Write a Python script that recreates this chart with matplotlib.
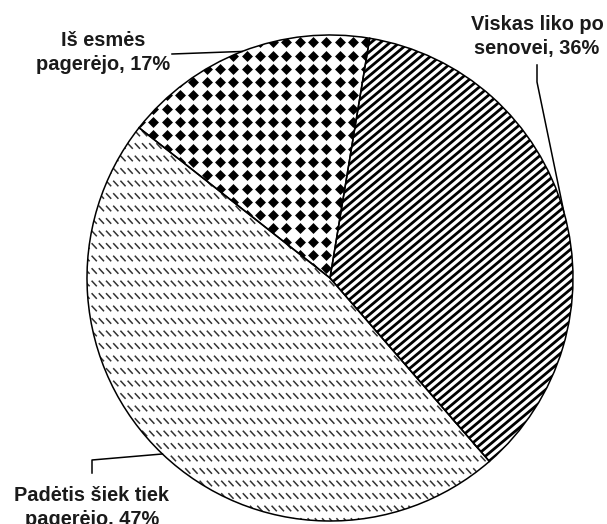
import numpy as np
import matplotlib
matplotlib.use('Agg')
import matplotlib.pyplot as plt
from matplotlib.collections import LineCollection

plt.rcParams['font.family'] = ['Liberation Sans', 'DejaVu Sans']

# data
labels = ['Viskas liko po\nsenovei, 36%', 'Padėtis šiek tiek\npagerėjo, 47%', 'Iš esmės\npagerėjo, 17%']
values = [36, 47, 17]

W, H = 607, 524
CX, CY, R = 330, 278, 243   # pie centre / radius in pixels
START = 80.6

# label layout (pixels): centre x, first baseline y; leader polyline start points
label_pos = [(537, 30), (92, 501), (103, 46)]
LINE_GAP = 24
leader_pts = [[(537, 65), (537, 82)], [(92, 473), (92, 460)], [(172, 54)]]

fig = plt.figure(figsize=(W / 100, H / 100), dpi=100)
ax = fig.add_axes([(CX - R) / W, (H - CY - R) / H, 2 * R / W, 2 * R / H])

wedges, _ = ax.pie(values, startangle=START, counterclock=False, radius=1,
                   colors=['white'] * 3, wedgeprops={'linewidth': 0})
ax.pie(values, startangle=START, counterclock=False, radius=1,
       wedgeprops={'fill': False, 'edgecolor': 'black', 'linewidth': 1.1, 'zorder': 5})
ax.set_xlim(-1, 1)
ax.set_ylim(-1, 1)
ax.axis('off')

u = 1.0 / R  # one pixel in data units

# slice 1: thick diagonal stripes
ang = np.radians(40)
d = np.array([np.cos(ang), np.sin(ang)])
n = np.array([-np.sin(ang), np.cos(ang)])
segs = []
for k in np.arange(-1.5, 1.5, 6.1 * u):
    p = k * n
    segs.append([p - 2 * d, p + 2 * d])
lc = LineCollection(segs, colors='black', linewidths=2.0, zorder=2)
ax.add_collection(lc)
lc.set_clip_path(wedges[0])

# slice 2: rows of short grey dashes
segs = []
for yy in np.arange(-1, 1, 12.5 * u):
    for xx in np.arange(-1, 1, 7.2 * u):
        segs.append([(xx - 2.6 * u, yy + 2.8 * u), (xx + 2.6 * u, yy - 2.8 * u)])
lc2 = LineCollection(segs, colors='0.2', linewidths=1.1, zorder=2)
ax.add_collection(lc2)
lc2.set_clip_path(wedges[1])

# slice 3: black diamonds grid
gx, gy = np.meshgrid(np.arange(-1, 1, 13.3 * u), np.arange(-1, 1, 13.3 * u))
sc = ax.scatter(gx.ravel(), gy.ravel(), marker='D', s=31, color='black',
                linewidths=0, zorder=2)
sc.set_clip_path(wedges[2])

def to_px(x, y):
    return CX + x * R, CY - y * R

def to_data(px, py):
    return (px - CX) / R, (CY - py) / R

for i, w in enumerate(wedges):
    mid = np.radians((w.theta1 + w.theta2) / 2)
    end = to_px(np.cos(mid), np.sin(mid))
    pts = leader_pts[i] + [end]
    xs, ys = zip(*[to_data(*p) for p in pts])
    ax.plot(xs, ys, color='black', lw=1.1, clip_on=False, zorder=6)
    tx, ty = label_pos[i]
    for j, line in enumerate(labels[i].split('\n')):
        fig.text(tx / W, 1 - (ty + j * LINE_GAP) / H, line, ha='center',
                 va='baseline', fontsize=14.4, fontweight='bold', color='#1a1a1a')

fig.savefig('out.png', dpi=100)
